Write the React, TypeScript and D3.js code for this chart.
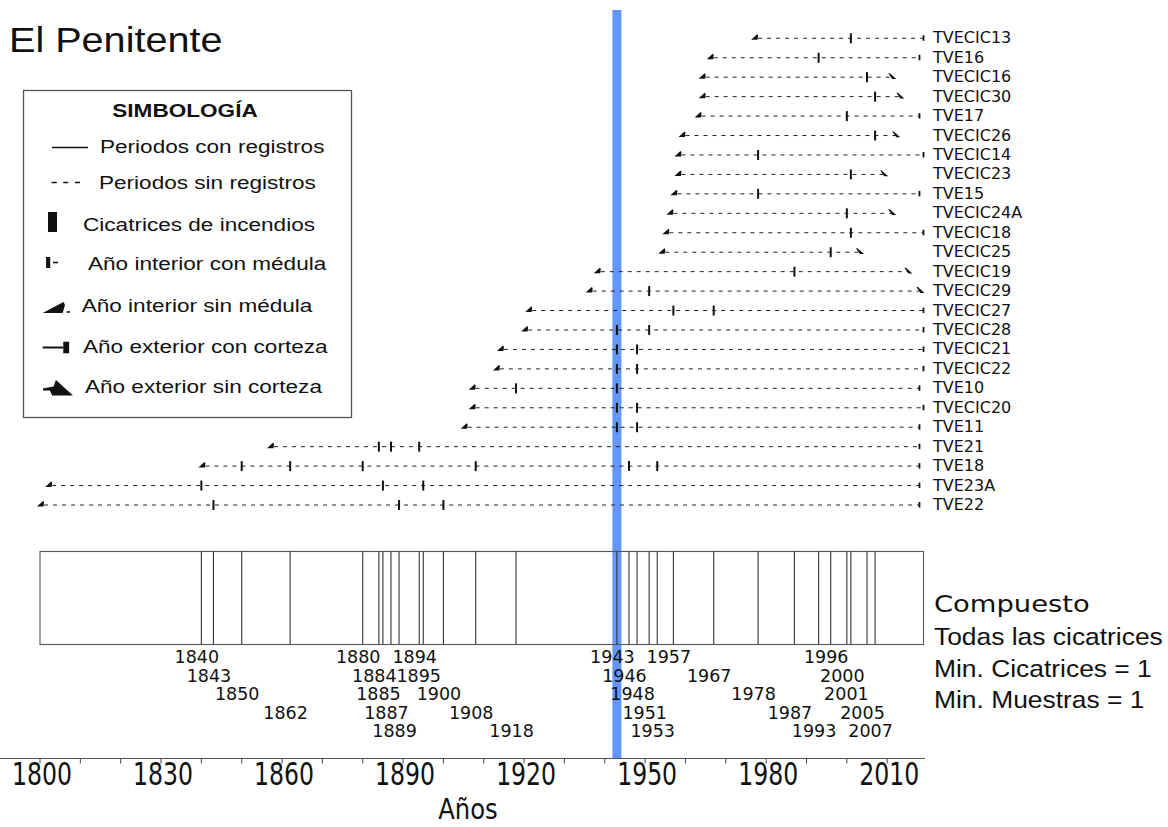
import React from "react";
import * as d3 from "d3";

// Fire-history chart for the El Penitente site: one row per sampled tree,
// a composite of all fire scars, and the time axis underneath.

const SAMPLES = [
  "TVECIC13", "TVE16", "TVECIC16", "TVECIC30", "TVE17", "TVECIC26", "TVECIC14",
  "TVECIC23", "TVE15", "TVECIC24A", "TVECIC18", "TVECIC25", "TVECIC19", "TVECIC29",
  "TVECIC27", "TVECIC28", "TVECIC21", "TVECIC22", "TVE10", "TVECIC20", "TVE11",
  "TVE21", "TVE18", "TVE23A", "TVE22",
];

// First ring year (all samples without pith)
const INNER_YEARS = [
  1978, 1967, 1965, 1965, 1964, 1960, 1959, 1959, 1958, 1957, 1956, 1955, 1939,
  1937, 1922, 1921, 1915, 1914, 1908, 1908, 1906, 1858, 1841, 1803, 1801,
];

// Last ring year
const OUTER_YEARS = [
  2019, 2018, 2012, 2014, 2018, 2013, 2019, 2010, 2018, 2012, 2019, 2004, 2016,
  2019, 2019, 2019, 2019, 2019, 2018, 2019, 2018, 2018, 2018, 2018, 2018,
];

// Whether the last ring has bark
const OUTER_BARK = [
  true, true, false, false, true, false, true, false, true, false, true, false, false,
  false, true, true, true, true, true, true, true, true, true, true, true,
];

// Fire scar years per sample
const SCAR_YEARS: number[][] = [
  [2001], [1993], [2005], [2007], [2000], [2007], [1978], [2001], [1978], [2000],
  [2001], [1996], [1987], [1951], [1957, 1967], [1943, 1951], [1943, 1948],
  [1943, 1948], [1918, 1943], [1943, 1948], [1943, 1948], [1884, 1887, 1894],
  [1850, 1862, 1880, 1908, 1946, 1953], [1840, 1885, 1895], [1843, 1889, 1900],
];

const AXIS_LABEL_YEARS = [1800, 1830, 1860, 1890, 1920, 1950, 1980, 2010];
const HIGHLIGHT_YEAR = 1943;

const COMPOSITE_NOTES = ["Todas las cicatrices", "Min. Cicatrices = 1", "Min. Muestras = 1"];

const LEGEND_ITEMS = [
  "Periodos con registros",
  "Periodos sin registros",
  "Cicatrices de incendios",
  "Año interior con médula",
  "Año interior sin médula",
  "Año exterior con corteza",
  "Año exterior sin corteza",
];

const W = 1168;
const H = 827;

const x = d3.scaleLinear().domain([1800, 2019]).range([40, 923.5]);
const y = d3.scalePoint<string>().domain(SAMPLES).range([38.3, 505]);

const COMP_TOP = 551.5;
const COMP_BOTTOM = 644.5;
const AXIS_Y = 758.5;

const sans = "'Liberation Sans', Arial, sans-serif";
const verdana = "'DejaVu Sans', Verdana, sans-serif";
const condensed = "'DejaVu Sans Condensed', 'DejaVu Sans', sans-serif";

function Legend() {
  const ys = [153, 189, 231, 270, 311.7, 353.3, 393];
  const xs = [63.1, 62.3, 49.2, 53.3, 48.1, 49.2, 50.8];
  return (
    <g>
      <rect x={23.5} y={90.5} width={328} height={327} fill="#fff" stroke="#555" strokeWidth={1.3} />
      <g transform="translate(23,0) scale(1.22,1)">
        <text x={132.8} y={117} textAnchor="middle" fontFamily={sans} fontWeight="bold" fontSize={18.5} fill="#111">
          SIMBOLOGÍA
        </text>
        {/* solid period */}
        <line x1={23.8} x2={53.3} y1={147.5} y2={147.5} stroke="#111" strokeWidth={1.6} />
        {/* dashed period */}
        {[23.5, 33, 42.6].map((d) => (
          <line key={d} x1={d} x2={d + 4.1} y1={182.5} y2={182.5} stroke="#111" strokeWidth={1.5} />
        ))}
        {/* fire scar */}
        <rect x={20.5} y={212} width={7.4} height={20} fill="#111" />
        {/* inner year with pith */}
        <rect x={18.9} y={257} width={3.4} height={11} fill="#111" />
        <line x1={24.6} x2={28.7} y1={262.5} y2={262.5} stroke="#111" strokeWidth={1.6} />
        {/* inner year without pith */}
        <polygon points="16.1,313 33.2,302 34.4,305 32.5,313" fill="#111" />
        <line x1={35.8} x2={38.5} y1={312} y2={312} stroke="#111" strokeWidth={1.6} />
        {/* outer year with bark */}
        <line x1={16.1} x2={33} y1={347.5} y2={347.5} stroke="#111" strokeWidth={2} />
        <rect x={33} y={341.7} width={4.8} height={11.6} fill="#111" />
        {/* outer year without bark */}
        <polygon points="16.4,388.5 25,386.5 27,380 41,395.5 24,395.5 22,390.5 16.4,390.5" fill="#111" />
        {LEGEND_ITEMS.map((t, i) => (
          <text key={t} x={xs[i]} y={ys[i]} fontFamily={sans} fontSize={18.5} fill="#111">
            {t}
          </text>
        ))}
      </g>
    </g>
  );
}

export default function App() {
  const compositeYears = Array.from(new Set(SCAR_YEARS.flat())).sort(d3.ascending);

  // Stagger composite labels over five rows; restart at the top after a long gap.
  const labelRows: number[] = [];
  compositeYears.forEach((yr, i) => {
    if (i === 0) labelRows.push(0);
    else if (yr - compositeYears[i - 1] > 15) labelRows.push(0);
    else labelRows.push((labelRows[i - 1] + 1) % 5);
  });

  const minorTicks = d3.range(1800, 2011, 10);

  return (
    <svg
      width={W}
      height={H}
      viewBox={`0 0 ${W} ${H}`}
      style={{ position: "absolute", left: 0, top: 0, display: "block", background: "#fff" }}
    >
      <rect width={W} height={H} fill="#fff" />

      <text transform="translate(9,52) scale(1.1,1)" fontFamily={sans} fontSize={36} fill="#111">
        El Penitente
      </text>

      {/* highlighted fire year */}
      <rect x={x(HIGHLIGHT_YEAR) - 4.5} y={10} width={9} height={AXIS_Y - 10} fill="#6396fc" />

      {/* sample rows */}
      {SAMPLES.map((name, i) => {
        const yy = y(name)!;
        const x0 = x(INNER_YEARS[i]);
        const x1 = x(OUTER_YEARS[i]);
        return (
          <g key={name}>
            <line x1={x0} x2={OUTER_BARK[i] ? x1 : x1 - 3} y1={yy} y2={yy} stroke="#222" strokeWidth={1} strokeDasharray="4 5" />
            <polygon
              points={`${x0 - 7},${yy + 1.5} ${x0 - 1},${yy - 4} ${x0},${yy - 3} ${x0 - 0.5},${yy + 1.5}`}
              fill="#111"
            />
            {OUTER_BARK[i] ? (
              <line x1={x1} x2={x1} y1={yy - 3} y2={yy + 2.5} stroke="#111" strokeWidth={1.8} />
            ) : (
              <polygon
                points={`${x1 - 7},${yy - 4} ${x1 - 5.5},${yy - 4} ${x1 + 1},${yy + 1.8} ${x1 - 3},${yy + 1.8}`}
                fill="#111"
              />
            )}
            {SCAR_YEARS[i].map((s) => (
              <line key={s} x1={x(s)} x2={x(s)} y1={yy - 5} y2={yy + 5} stroke="#111" strokeWidth={2} />
            ))}
            <text x={933} y={yy + 5} fontFamily={verdana} fontSize={16} fill="#111">
              {name}
            </text>
          </g>
        );
      })}

      {/* composite */}
      <rect
        x={x(1800)}
        y={COMP_TOP}
        width={x(2019) - x(1800)}
        height={COMP_BOTTOM - COMP_TOP}
        fill="none"
        stroke="#555"
        strokeWidth={1.1}
      />
      {compositeYears.map((yr) => (
        <line key={yr} x1={x(yr)} x2={x(yr)} y1={COMP_TOP} y2={COMP_BOTTOM} stroke="#333" strokeWidth={1.1} />
      ))}
      {compositeYears.map((yr, i) => (
        <text
          key={yr}
          x={x(yr) - 4.5}
          y={663 + labelRows[i] * 18.5}
          textAnchor="middle"
          fontFamily={verdana}
          fontSize={17.5}
          fill="#111"
        >
          {yr}
        </text>
      ))}

      <text transform="translate(934,612) scale(1.19,1)" fontFamily={verdana} fontSize={23} fill="#111">
        Compuesto
      </text>
      {COMPOSITE_NOTES.map((t, i) => (
        <text key={t} transform={`translate(934,${645 + i * 31.7}) scale(1.1,1)`} fontFamily={sans} fontSize={24} fill="#111">
          {t}
        </text>
      ))}

      {/* time axis */}
      <line x1={0} x2={925} y1={AXIS_Y} y2={AXIS_Y} stroke="#555" strokeWidth={1.2} />
      {minorTicks.map((t) => (
        <line key={t} x1={x(t)} x2={x(t)} y1={AXIS_Y} y2={AXIS_Y + 5} stroke="#444" strokeWidth={1} />
      ))}
      {AXIS_LABEL_YEARS.map((t) => (
        <text
          key={t}
          transform={`translate(${x(t) + 2},785) scale(0.97,1.15)`}
          textAnchor="middle"
          fontFamily={condensed}
          fontSize={27}
          fill="#111"
        >
          {t}
        </text>
      ))}
      <text transform="translate(468,819) scale(1,1.08)" textAnchor="middle" fontFamily={condensed} fontSize={27} fill="#111">
        Años
      </text>

      <Legend />
    </svg>
  );
}
